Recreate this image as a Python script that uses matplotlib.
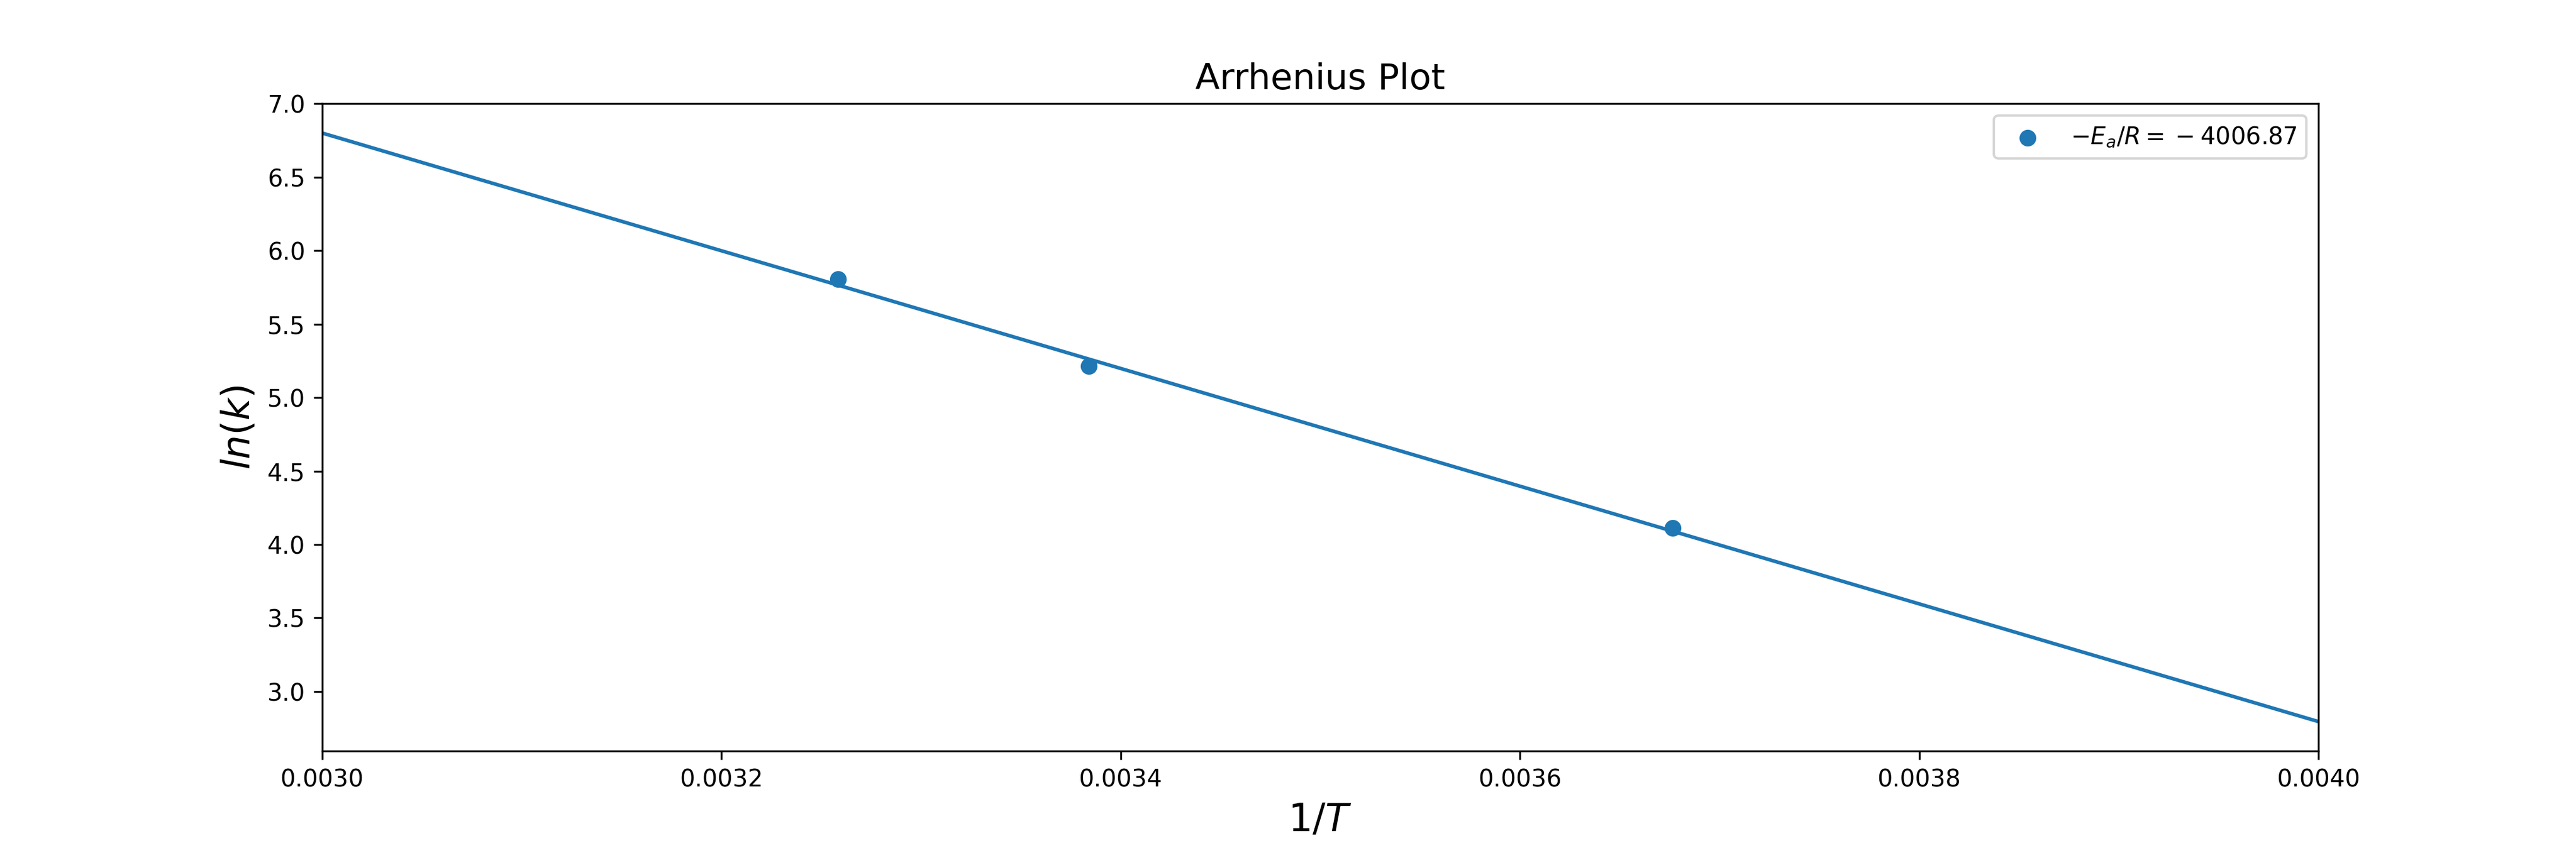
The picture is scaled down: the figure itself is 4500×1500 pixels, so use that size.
import numpy as np
import matplotlib
matplotlib.use("Agg")
import matplotlib.pyplot as plt

# Data
inv_T = [0.0032586, 0.0033842, 0.0036766]
ln_k = [5.808, 5.215, 4.112]

# Fitted line (slope shown in the legend)
slope = -4006.87
intercept = 18.822
line_x = [0.0030, 0.0040]

fig = plt.figure(figsize=(15, 5), dpi=300)
ax = fig.add_axes([0.125, 0.1247, 0.775, 0.7546])

label = r"$-E_a/R = \:-\:%.2f$" % abs(slope)
ax.scatter(inv_T, ln_k, color="C0", label=label)
line_y = [slope * x + intercept for x in line_x]
ax.plot(line_x, line_y, color="C0")

ax.set_xlim(0.0030, 0.0040)
ax.set_title("Arrhenius Plot", fontsize=15)
ax.set_xlabel(r"$1/T$", fontsize=16)
ax.set_ylabel(r"$ln(k)$", fontsize=16)
ax.legend(loc="upper right")

fig.savefig("out.png", dpi=300)
